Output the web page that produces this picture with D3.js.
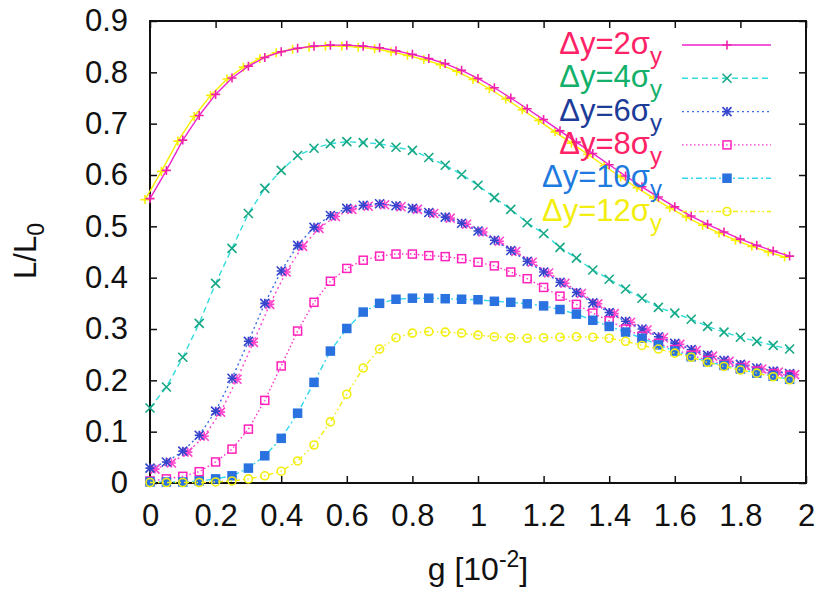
<!DOCTYPE html>
<html>
<head>
<meta charset="utf-8">
<script src="https://cdn.jsdelivr.net/npm/d3@7"></script>
<style>
  body { margin: 0; background: #fff; }
  svg { display: block; font-family: "Liberation Sans", Arial, sans-serif; }
</style>
</head>
<body>
<svg id="chart" width="821" height="590"></svg>
<script>
// g values [10^-2]
var gValues = [0, 0.05, 0.1, 0.15, 0.2, 0.25, 0.3, 0.35, 0.4, 0.45,
               0.5, 0.55, 0.6, 0.65, 0.7, 0.75, 0.8, 0.85, 0.9, 0.95,
               1, 1.05, 1.1, 1.15, 1.2, 1.25, 1.3, 1.35, 1.4, 1.45,
               1.5, 1.55, 1.6, 1.65, 1.7, 1.75, 1.8, 1.85, 1.9, 1.95];

// L/L0 for each separation
var dy2 = [0.554, 0.609, 0.668, 0.716, 0.757, 0.789, 0.812, 0.829, 0.840, 0.847,
           0.851, 0.853, 0.853, 0.851, 0.848, 0.842, 0.835, 0.827, 0.817, 0.804,
           0.788, 0.770, 0.750, 0.729, 0.708, 0.686, 0.664, 0.642, 0.620, 0.598,
           0.577, 0.557, 0.538, 0.520, 0.504, 0.489, 0.475, 0.463, 0.452, 0.442];
var dy4 = [0.146, 0.187, 0.245, 0.311, 0.389, 0.457, 0.525, 0.574, 0.609, 0.638,
           0.652, 0.661, 0.665, 0.663, 0.661, 0.654, 0.648, 0.634, 0.619, 0.601,
           0.580, 0.556, 0.533, 0.507, 0.486, 0.459, 0.438, 0.415, 0.397, 0.378,
           0.360, 0.342, 0.331, 0.319, 0.305, 0.294, 0.284, 0.276, 0.268, 0.261];
var dy6 = [0.029, 0.041, 0.062, 0.093, 0.140, 0.204, 0.276, 0.350, 0.413, 0.463,
           0.498, 0.521, 0.535, 0.541, 0.544, 0.540, 0.535, 0.527, 0.518, 0.506,
           0.491, 0.473, 0.453, 0.432, 0.411, 0.391, 0.371, 0.351, 0.332, 0.315,
           0.300, 0.285, 0.272, 0.260, 0.249, 0.239, 0.231, 0.224, 0.218, 0.213];
var dy8 = [0.004, 0.008, 0.013, 0.022, 0.041, 0.066, 0.105, 0.161, 0.228, 0.296,
           0.352, 0.393, 0.418, 0.434, 0.442, 0.446, 0.446, 0.443, 0.441, 0.437,
           0.430, 0.423, 0.411, 0.398, 0.381, 0.364, 0.348, 0.331, 0.316, 0.300,
           0.286, 0.272, 0.260, 0.249, 0.239, 0.231, 0.224, 0.218, 0.213, 0.210];
var dy10 = [0.002, 0.002, 0.002, 0.004, 0.008, 0.014, 0.029, 0.053, 0.087, 0.136,
            0.196, 0.257, 0.301, 0.333, 0.350, 0.358, 0.360, 0.360, 0.359, 0.358,
            0.357, 0.354, 0.352, 0.349, 0.345, 0.338, 0.329, 0.317, 0.305, 0.294,
            0.282, 0.269, 0.257, 0.246, 0.236, 0.229, 0.222, 0.214, 0.208, 0.202];
var dy12 = [0.001, 0.001, 0.001, 0.001, 0.002, 0.004, 0.008, 0.014, 0.023, 0.043,
            0.074, 0.119, 0.173, 0.224, 0.261, 0.283, 0.292, 0.295, 0.294, 0.292,
            0.288, 0.285, 0.283, 0.282, 0.283, 0.284, 0.285, 0.284, 0.282, 0.276,
            0.268, 0.261, 0.253, 0.245, 0.235, 0.227, 0.220, 0.214, 0.207, 0.201];

var seriesNames = ["2", "4", "6", "8", "10", "12"];
var xTicks = [0, 0.2, 0.4, 0.6, 0.8, 1, 1.2, 1.4, 1.6, 1.8, 2];
var xTickLabels = ["0", "0.2", "0.4", "0.6", "0.8", "1", "1.2", "1.4", "1.6", "1.8", "2"];
var yTicks = [0, 0.1, 0.2, 0.3, 0.4, 0.5, 0.6, 0.7, 0.8, 0.9];
var yTickLabels = ["0", "0.1", "0.2", "0.3", "0.4", "0.5", "0.6", "0.7", "0.8", "0.9"];

var allSeries = [dy2, dy4, dy6, dy8, dy10, dy12];

// styles (gnuplot-like, as they came out of the scan)
var lineColors = ["#ee22cc", "#33dddd", "#3a6ae8", "#ff33cc", "#33d8ee", "#f2ee10"];
var markColors = ["#ee22aa", "#16a885", "#3444cc", "#ff22bb", "#2a72e0", "#f2ee10"];
var textColors = ["#ff2266", "#12b06a", "#1c3c98", "#ff2266", "#1f7ae0", "#f2ee10"];
var dashes = [null, "6,4", "2,3", "1.5,2.5", "6,3,2,3", "5,3,1.5,3,1.5,3"];
var markTypes = ["plus", "cross", "star", "box", "fbox", "circle"];
var ghostColors = ["#f7f000", null, "#ff44cc", null, null, null];

var svg = d3.select("#chart");
var plotLeft = 150, plotRight = 806, plotTop = 21, plotBottom = 483;

var x = d3.scaleLinear().domain([0, 2]).range([plotLeft, plotRight]);
var y = d3.scaleLinear().domain([0, 0.9]).range([plotBottom, plotTop]);

function drawMarker(g, type, cx, cy, color) {
  var s = 4.5;
  if (type == "plus" || type == "star") {
    g.append("path").attr("d", "M" + (cx - s) + "," + cy + "H" + (cx + s) + "M" + cx + "," + (cy - s) + "V" + (cy + s))
      .attr("stroke", color).attr("stroke-width", 1.6).attr("fill", "none");
  }
  if (type == "cross" || type == "star") {
    g.append("path").attr("d", "M" + (cx - s) + "," + (cy - s) + "L" + (cx + s) + "," + (cy + s) +
        "M" + (cx - s) + "," + (cy + s) + "L" + (cx + s) + "," + (cy - s))
      .attr("stroke", color).attr("stroke-width", 1.6).attr("fill", "none");
  }
  if (type == "box" || type == "fbox") {
    g.append("rect").attr("x", cx - 4).attr("y", cy - 4).attr("width", 8).attr("height", 8)
      .attr("fill", type == "fbox" ? color : "none")
      .attr("stroke", color).attr("stroke-width", 1.5);
  }
  if (type == "circle") {
    g.append("circle").attr("cx", cx).attr("cy", cy).attr("r", 4)
      .attr("fill", "none").attr("stroke", color).attr("stroke-width", 1.6);
  }
}

// axes with inward ticks on all four sides
var fontSize = 31;
var axL = svg.append("g").attr("transform", "translate(" + plotLeft + ",0)")
  .call(d3.axisLeft(y).tickValues(yTicks).tickFormat(function(d, i) { return yTickLabels[i]; })
    .tickSize(-7).tickSizeOuter(0).tickPadding(22));
var axB = svg.append("g").attr("transform", "translate(0," + plotBottom + ")")
  .call(d3.axisBottom(x).tickValues(xTicks).tickFormat(function(d, i) { return xTickLabels[i]; })
    .tickSize(-7).tickSizeOuter(0).tickPadding(21));
var axT = svg.append("g").attr("transform", "translate(0," + plotTop + ")")
  .call(d3.axisTop(x).tickValues(xTicks).tickFormat("").tickSize(-7).tickSizeOuter(0));
var axR = svg.append("g").attr("transform", "translate(" + plotRight + ",0)")
  .call(d3.axisRight(y).tickValues(yTicks).tickFormat("").tickSize(-7).tickSizeOuter(0));

[axL, axB, axT, axR].forEach(function(a) {
  a.selectAll(".domain").remove();
  a.selectAll(".tick line").attr("stroke", "#111").attr("stroke-width", 1.5);
  a.selectAll("text").attr("font-size", fontSize).attr("fill", "#111")
    .attr("font-family", "'Liberation Sans', Arial, sans-serif");
});

svg.append("rect").attr("x", plotLeft).attr("y", plotTop)
  .attr("width", plotRight - plotLeft).attr("height", plotBottom - plotTop)
  .attr("fill", "none").attr("stroke", "#111").attr("stroke-width", 2);

// curves
var line = d3.line().x(function(d, i) { return x(gValues[i]); }).y(function(d) { return y(d); });

allSeries.forEach(function(vals, si) {
  var g = svg.append("g");
  if (ghostColors[si]) {
    var gg = g.append("g").attr("transform", si == 0 ? "translate(-5,1)" : "translate(5,1)");
    gg.append("path").datum(vals).attr("d", line).attr("fill", "none")
      .attr("stroke", ghostColors[si]).attr("stroke-width", 1.4)
      .attr("stroke-dasharray", dashes[si]);
    vals.forEach(function(v, i) { drawMarker(gg, markTypes[si], x(gValues[i]), y(v), ghostColors[si]); });
  }
  g.append("path").datum(vals).attr("d", line).attr("fill", "none")
    .attr("stroke", lineColors[si]).attr("stroke-width", 1.4)
    .attr("stroke-dasharray", dashes[si]);
  vals.forEach(function(v, i) { drawMarker(g, markTypes[si], x(gValues[i]), y(v), markColors[si]); });
});

// legend
var legend = svg.append("g");
seriesNames.forEach(function(name, i) {
  var rowY = 45 + i * 33.3;
  var t = legend.append("text").attr("x", 662).attr("y", rowY + 9)
    .attr("text-anchor", "end").attr("font-size", 31).attr("fill", textColors[i]);
  t.append("tspan").text("\u0394y=" + name + "\u03c3");
  t.append("tspan").attr("font-size", 24).attr("dy", 10).text("y");
  legend.append("line").attr("x1", 682).attr("x2", 771).attr("y1", rowY).attr("y2", rowY)
    .attr("stroke", lineColors[i]).attr("stroke-width", 1.4).attr("stroke-dasharray", dashes[i]);
  drawMarker(legend, markTypes[i], 727, rowY, markColors[i]);
});

// axis titles
var yt = svg.append("text").attr("transform", "translate(36,251) rotate(-90)")
  .attr("text-anchor", "middle").attr("font-size", fontSize).attr("fill", "#111");
yt.append("tspan").text("L/L");
yt.append("tspan").attr("font-size", 23).attr("dy", 8).text("0");

var xt = svg.append("text").attr("x", 478).attr("y", 580)
  .attr("text-anchor", "middle").attr("font-size", 32).attr("fill", "#111");
xt.append("tspan").text("g [10");
xt.append("tspan").attr("font-size", 23).attr("dy", -13).text("-2");
xt.append("tspan").attr("dy", 13).text("]");
</script>
</body>
</html>
